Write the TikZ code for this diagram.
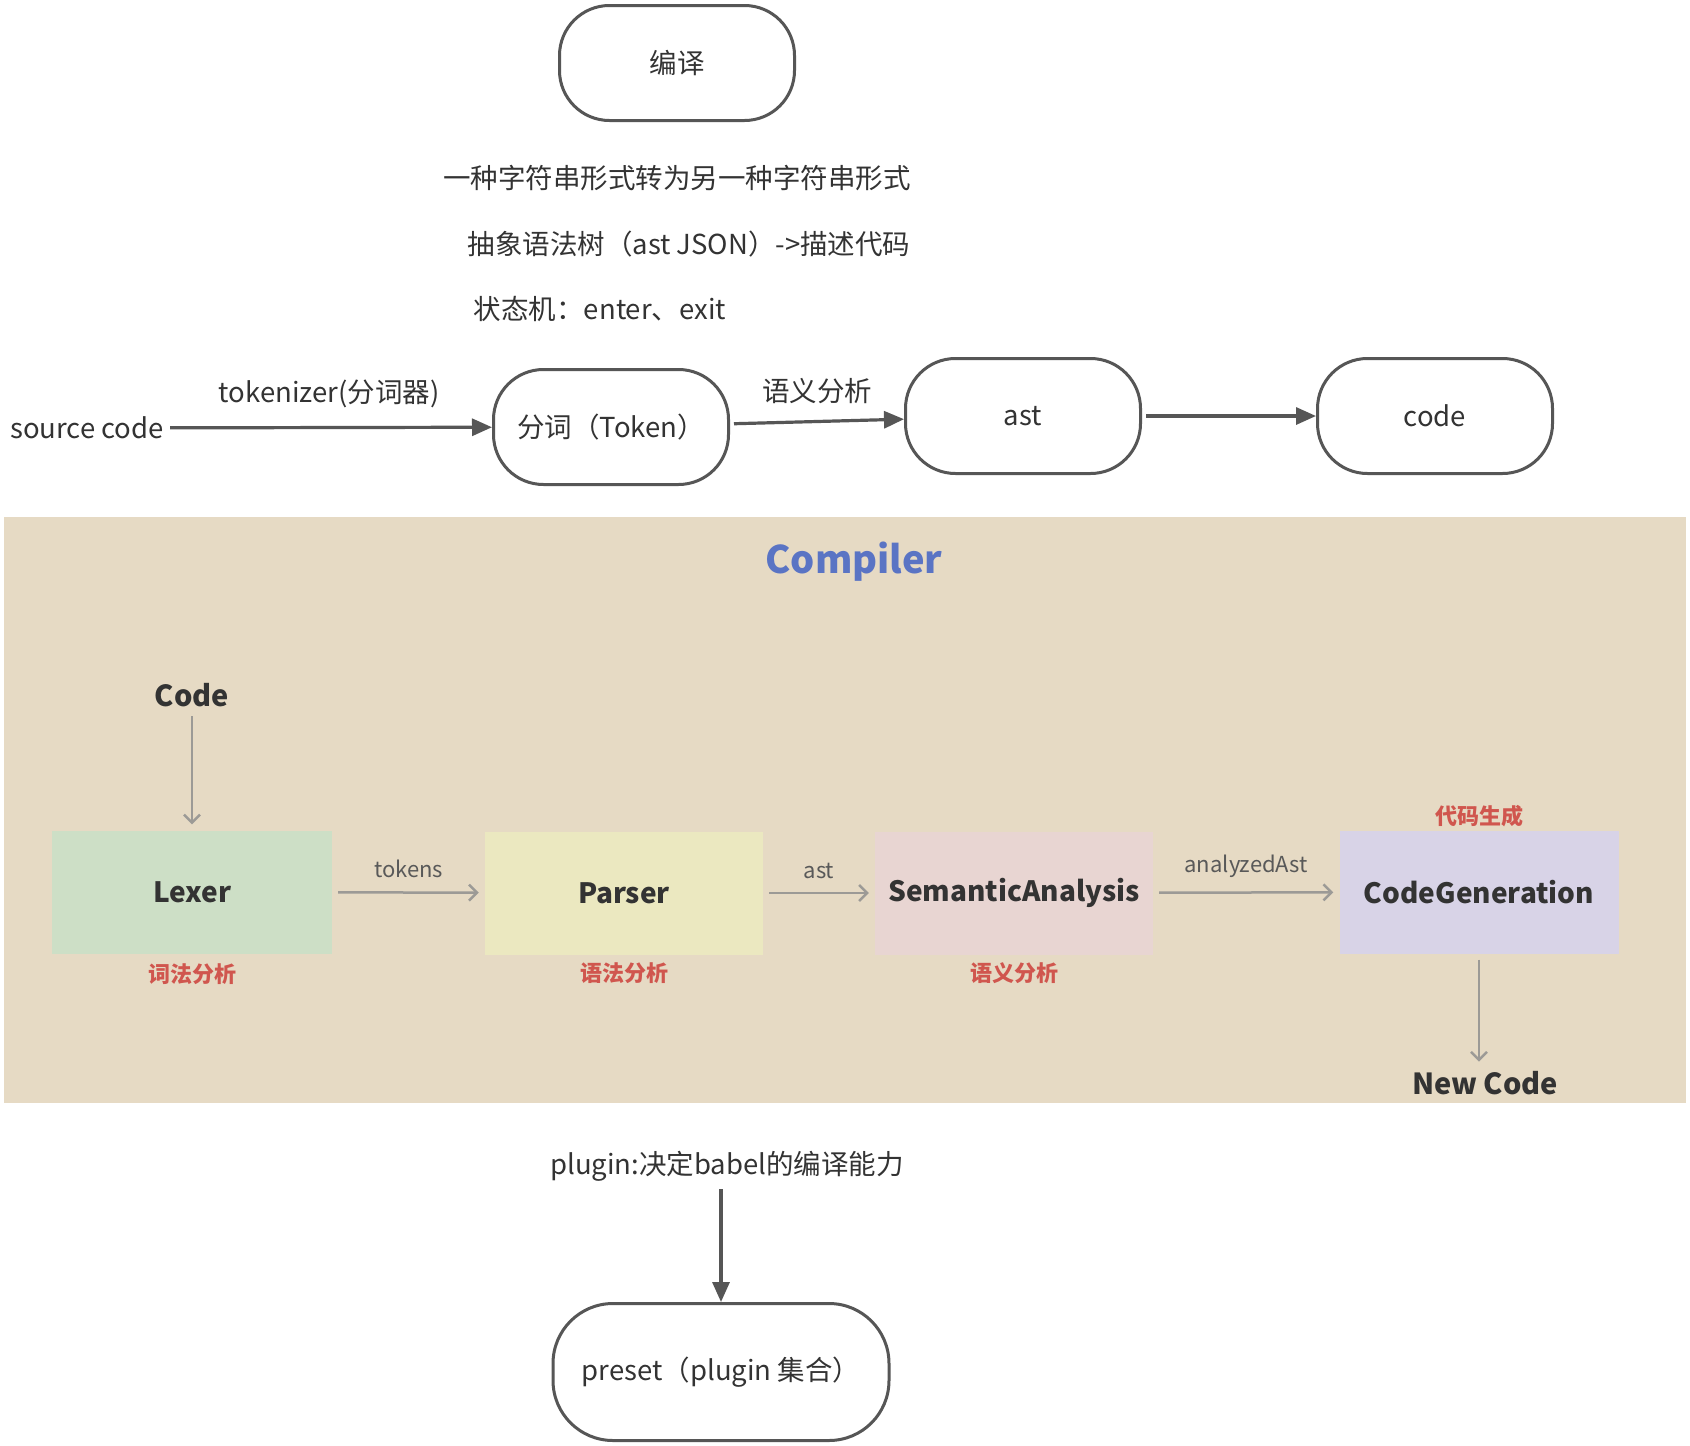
\documentclass[tikz,border=0pt]{standalone}
\usepackage{fontspec}
\setmainfont{Noto Sans CJK SC}
\usetikzlibrary{arrows.meta,positioning}
\definecolor{linegray}{HTML}{565656}
\definecolor{textgray}{HTML}{333333}
\definecolor{panelbg}{HTML}{E6DAC4}
\definecolor{lexergreen}{HTML}{CDDFC6}
\definecolor{parseryellow}{HTML}{EBE8C0}
\definecolor{semanticpink}{HTML}{E8D5D2}
\definecolor{codegenlilac}{HTML}{D8D3E7}
\definecolor{compilerblue}{HTML}{5A74C4}
\definecolor{zhred}{HTML}{D0564E}
\definecolor{thingray}{HTML}{9C9A96}

\begin{document}
\begin{tikzpicture}[x=1pt,y=-1pt,
    pill/.style={draw=linegray,line width=3pt,rounded corners=50pt,
      minimum width=235pt,minimum height=115pt,text=textgray,
      font=\fontsize{27.5}{32}\selectfont},
    plain/.style={text=textgray,inner sep=2pt,font=\fontsize{27.5}{32}\selectfont},
    bigarrow/.style={draw=linegray,line width=3.2pt,
      -{Triangle[length=20pt,width=17pt]}},
    stage/.style={minimum width=280pt,minimum height=123pt,
      font=\bfseries\fontsize{28}{32}\selectfont,text=black!80},
    thinarrow/.style={draw=thingray,line width=2.5pt,
      -{Straight Barb[length=8pt,width=16pt]}},
    smalllbl/.style={text=black!65,font=\fontsize{22}{26}\selectfont},
    redlbl/.style={text=zhred,font=\bfseries\fontsize{22}{26}\selectfont},
    darklbl/.style={text=black!80,font=\bfseries\fontsize{29}{34}\selectfont}]
  \fill[white] (0,0) rectangle (1690,1446);
  \useasboundingbox (0,0) rectangle (1690,1446);

  \node[pill] (bianyi) at (677,63) {编译};
  \node[plain] (line1) at (677,178) {一种字符串形式转为另一种字符串形式};
  \node[plain] (line2) at (689,244) {抽象语法树（ast JSON）->描述代码};
  \node[plain] (line3) at (600,309) {状态机：enter、exit};

  \node[plain] (src) at (87,428) {source code};
  \node[pill] (tok) at (611,427) {分词（Token）};
  \node[pill] (ast) at (1023,416) {ast};
  \node[pill] (code) at (1435,416) {code};
  \begin{scope}[shorten <=4pt]
    \draw[bigarrow] (src) -- node[plain,above=16pt] (tokenizer) {tokenizer(分词器)} (tok);
    \draw[bigarrow] (tok) -- node[plain,above=14pt] (yuyi) {语义分析} (ast);
    \draw[bigarrow] (ast) -- (code);
  \end{scope}

  \fill[panelbg] (4,517) rectangle (1686,1103);
  \node[text=compilerblue,font=\bfseries\fontsize{38}{44}\selectfont] (compiler) at (854,562) {Compiler};
  \node[darklbl] (codein) at (192,695) {Code};
  \node[stage,fill=lexergreen] (lexer) at (192,892) {Lexer};
  \node[stage,fill=parseryellow,minimum width=278pt] (parser) at (624,893) {Parser};
  \node[stage,fill=semanticpink,minimum width=278pt] (semantic) at (1014,893) {SemanticAnalysis};
  \node[stage,fill=codegenlilac,minimum width=279pt] (codegen) at (1479,892) {CodeGeneration};
  \node[redlbl,below=6pt of lexer] (lexerzh) {词法分析};
  \node[redlbl,below=4pt of parser] (parserzh) {语法分析};
  \node[redlbl,below=4pt of semantic] (semanticzh) {语义分析};
  \node[redlbl,above=0pt of codegen] (codegenzh) {代码生成};
  \node[darklbl] (newcode) at (1485,1083) {New Code};
  \begin{scope}[thinarrow,shorten <=6pt,shorten >=6pt]
    \draw (codein) -- (lexer);
    \draw (lexer) -- node[smalllbl,above=10pt] (tokens) {tokens} (parser);
    \draw (parser) -- node[smalllbl,above=10pt] (astlbl) {ast} (semantic);
    \draw (semantic) -- node[smalllbl,above=10pt] (analyzed) {analyzedAst} (codegen);
    \draw (codegen.south) -- (codegen.south |- newcode.north);
  \end{scope}

  \node[plain] (plugin) at (727,1166) {plugin:决定babel的编译能力};
  \node[pill,minimum width=336pt,minimum height=137pt,rounded corners=60pt] (preset) at (721,1372) {preset（plugin 集合）};
  \draw[bigarrow,shorten <=6pt] (preset.north |- plugin.south) -- (preset);
\end{tikzpicture}
\end{document}
